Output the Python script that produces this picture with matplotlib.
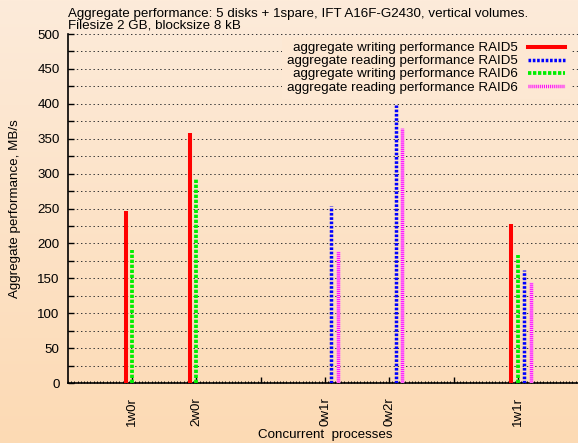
import matplotlib
matplotlib.use("Agg")
import matplotlib.pyplot as plt
from matplotlib.lines import Line2D
from matplotlib.ticker import MultipleLocator
import numpy as np

# Data
positions = [1, 2, 3, 4, 5, 6, 7]
tick_labels = ["1w0r", "2w0r", "", "0w1r", "0w2r", "", "1w1r"]
nan = np.nan
raid5_write = [247, 358, nan, nan, nan, nan, 228]
raid5_read = [nan, nan, nan, 254, 399, nan, 162]
raid6_write = [191, 292, nan, nan, nan, nan, 184]
raid6_read = [nan, nan, nan, 189, 366, nan, 145]

plt.rcParams["font.family"] = ["Liberation Sans", "DejaVu Sans"]
plt.rcParams["font.size"] = 9.6
plt.rcParams["lines.scale_dashes"] = False

# (label, values, offset, colour, width, dashes, underlay)
series = [
    ("aggregate writing performance RAID5", raid5_write, -0.1, "#ff0000", 2.9, "solid", None),
    ("aggregate reading performance RAID5", raid5_read, 0.1, "#0000ff", 2.5, (0, (1.9, 1.2)), None),
    ("aggregate writing performance RAID6", raid6_write, 0.0, "#00ee00", 2.7, (0, (2.4, 1.2)), None),
    ("aggregate reading performance RAID6", raid6_read, 0.2, "#ff00ff", 2.5, (0, (0.7, 0.7)), "#ffb8f0"),
]

fig = plt.figure(figsize=(5.78, 4.43), dpi=100)

# gradient background like the original
bg = fig.add_axes([0, 0, 1, 1], zorder=-10)
grad = np.linspace(0, 1, 256).reshape(-1, 1)
top = np.array([253, 235, 218]) / 255
bottom = np.array([252, 218, 180]) / 255
img = top + (bottom - top) * grad[:, :, None]
bg.imshow(img, aspect="auto", extent=[0, 1, 0, 1])
bg.axis("off")

ax = fig.add_axes([0.1176, 0.1354, 0.8894, 0.7878])
ax.set_facecolor("none")

handles = []
for label, vals, off, col, lw, ls, under in series:
    vals = np.array(vals, dtype=float)
    ok = ~np.isnan(vals)
    xs = np.array(positions, dtype=float)[ok] + off
    if under:
        ax.vlines(xs, 0, vals[ok], colors=under, linewidth=lw, zorder=3)
    ax.vlines(xs, 0, vals[ok], colors=col, linewidth=lw, linestyles=ls, zorder=3)
    handles.append(Line2D([], [], color=col, linewidth=lw, linestyle=ls, label=label))

ax.set_xlim(0, 8)
ax.set_ylim(0, 500)
ax.yaxis.set_major_locator(MultipleLocator(50))
ax.yaxis.set_minor_locator(MultipleLocator(25))
ax.set_xticks(positions)
ax.set_xticklabels(tick_labels, rotation=90)
ax.xaxis.set_minor_locator(MultipleLocator(0.05))
ax.tick_params(axis="both", which="major", direction="in", length=4, width=1)
ax.tick_params(axis="y", which="minor", direction="in", length=4, width=1)
ax.tick_params(axis="x", which="minor", direction="in", length=1.5, width=0.7)
ax.tick_params(axis="x", which="major", pad=10)
ax.tick_params(axis="y", which="major", pad=6)
ax.grid(axis="y", which="both", linestyle=(0, (1, 2)), color="#333333", linewidth=0.7)
ax.set_axisbelow(True)
for s in ("top", "right"):
    ax.spines[s].set_visible(False)
ax.spines["left"].set_linewidth(1.2)
ax.spines["bottom"].set_linewidth(1.2)

ax.set_ylabel("Aggregate performance, MB/s", labelpad=12)
ax.set_xlabel("Concurrent  processes", labelpad=2)

fig.text(68 / 578, 1 - 8 / 443,
         "Aggregate performance: 5 disks + 1spare, IFT A16F-G2430, vertical volumes.\n"
         "Filesize 2 GB, blocksize 8 kB",
         ha="left", va="top", linespacing=0.95)

leg = ax.legend(handles=handles, loc="upper right", bbox_to_anchor=(0.99, 1.012),
                markerfirst=False, handlelength=2.8, handletextpad=0.7,
                labelspacing=0.06, borderpad=0.4, fancybox=False,
                facecolor="#fde8d3", edgecolor="none", framealpha=1)
leg.set_zorder(5)

fig.savefig("out.png", dpi=100)
